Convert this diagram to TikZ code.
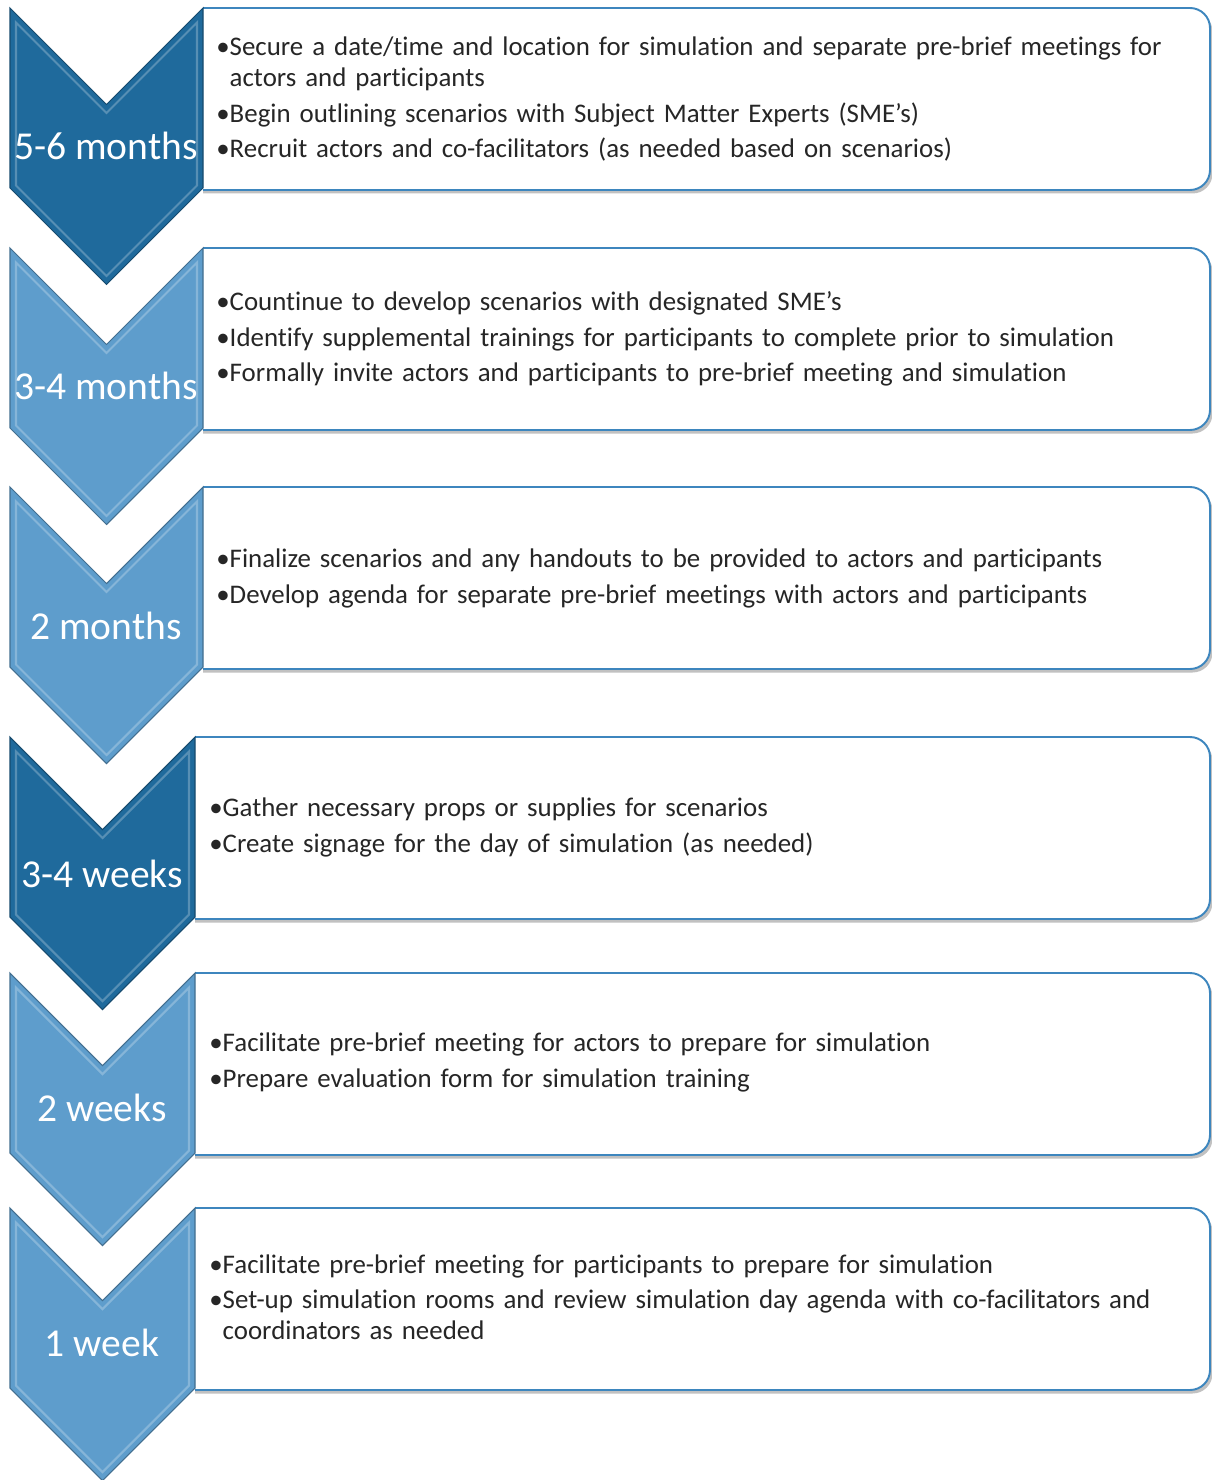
\documentclass[tikz,border=0pt]{standalone}
\usepackage{fontspec}
\setmainfont{Carlito}[Ligatures={TeX,NoCommon}]
\usetikzlibrary{shadows}
\definecolor{darkchev}{HTML}{1F6A9C}
\definecolor{lightchev}{HTML}{5E9DCC}
\definecolor{boxline}{HTML}{3D86BE}
\definecolor{bodytext}{HTML}{262626}
\newlength\bulw
% one bullet line; \cont starts a wrapped line under the text
\newcommand\itm[1]{\par\settowidth\bulw{\textbullet}\noindent\textbullet#1}
\newcommand\cont{\newline\hspace*{\bulw}}
\tikzset{
  stepbox/.style={draw=boxline, line width=1.1pt, fill=white, rounded corners=0.4cm,
    drop shadow={shadow xshift=0.5mm, shadow yshift=-0.7mm, opacity=.35, fill=black!70}},
  when/.style={text=white, inner sep=0pt, font=\fontsize{22.5}{26}\selectfont},
  todo/.style={anchor=west, inner sep=0pt, text width=19.8cm, align=left, text=bodytext,
    font=\fontsize{15.3}{17.6}\selectfont\setlength\parskip{2.6pt}},
}
% chevron: top, right edge, colour
\newcommand\chev[3]{%
  \pgfmathsetmacro\mx{(10+#2)/2}\pgfmathsetmacro\nd{(#2-10)/2}
  \begin{scope}
    \clip (#2,#1-20) rectangle (1212,#1+200);
    \draw[stepbox] (#2-30,#1) rectangle (1210,#1+182);
  \end{scope}
  \fill[#3] (10,#1) -- (\mx,#1+\nd) -- (#2,#1) -- (#2,#1+180) -- (\mx,#1+180+\nd) -- (10,#1+180) -- cycle;
  \draw[white, opacity=.25, line width=1.2pt] (16,#1+14.5) -- (\mx,#1+\nd+8.5) -- (#2-6,#1+14.5)
    -- (#2-6,#1+177.5) -- (\mx,#1+180+\nd-8.5) -- (16,#1+177.5) -- cycle;
  \draw[#3!70!black, line width=.6pt] (10,#1) -- (\mx,#1+\nd) -- (#2,#1) -- (#2,#1+180) -- (\mx,#1+180+\nd) -- (10,#1+180) -- cycle;
}

\begin{document}
\begin{tikzpicture}[x=0.02cm, y=-0.02cm]
\useasboundingbox (0,0) rectangle (1212,1480);

\chev{8}{203}{darkchev}
\node[when] (w1) at (106,146) {5-6 months};
\node[todo] (d1) at (216,91) {\itm{Secure a date/time and location for simulation and separate pre-brief meetings for\cont actors and participants}
  \itm{Begin outlining scenarios with Subject Matter Experts (SME's)}
  \itm{Recruit actors and co-facilitators (as needed based on scenarios)}};

\chev{248}{203}{lightchev}
\node[when] (w2) at (106,386) {3-4 months};
\node[todo] (d2) at (216,331) {\itm{Countinue to develop scenarios with designated SME's}
  \itm{Identify supplemental trainings for participants to complete prior to simulation}
  \itm{Formally invite actors and participants to pre-brief meeting and simulation}};

\chev{487}{203}{lightchev}
\node[when] (w3) at (106,626) {2 months};
\node[todo] (d3) at (216,570) {\itm{Finalize scenarios and any handouts to be provided to actors and participants}
  \itm{Develop agenda for separate pre-brief meetings with actors and participants}};

\chev{737}{195}{darkchev}
\node[when] (w4) at (102,874) {3-4 weeks};
\node[todo] (d4) at (209,819) {\itm{Gather necessary props or supplies for scenarios}
  \itm{Create signage for the day of simulation (as needed)}};

\chev{973}{195}{lightchev}
\node[when] (w5) at (102,1108) {2 weeks};
\node[todo] (d5) at (209,1054) {\itm{Facilitate pre-brief meeting for actors to prepare for simulation}
  \itm{Prepare evaluation form for simulation training}};

\chev{1208}{195}{lightchev}
\node[when] (w6) at (102,1343) {1 week};
\node[todo] (d6) at (209,1289) {\itm{Facilitate pre-brief meeting for participants to prepare for simulation}
  \itm{Set-up simulation rooms and review simulation day agenda with co-facilitators and\cont coordinators as needed}};
\end{tikzpicture}
\end{document}
